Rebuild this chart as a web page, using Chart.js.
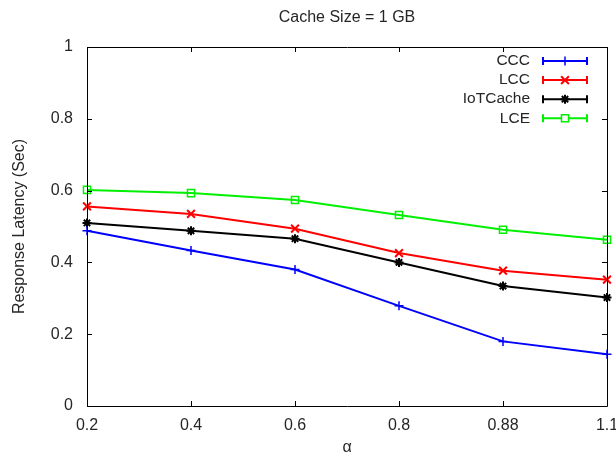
<!DOCTYPE html>
<html>
<head>
<meta charset="utf-8">
<script src="https://cdn.jsdelivr.net/npm/chart.js@4.4.1/dist/chart.umd.min.js"></script>
<style>
  html, body { margin: 0; padding: 0; background: #ffffff; }
  #wrap { width: 616px; height: 458px; }
</style>
</head>
<body>
<div id="wrap"><canvas id="c" width="616" height="458"></canvas></div>
<script>
const categories = ['0.2', '0.4', '0.6', '0.8', '0.88', '1.1'];
const seriesNames = ['CCC', 'LCC', 'IoTCache', 'LCE'];
const cccValues = [0.488, 0.433, 0.380, 0.279, 0.180, 0.144];
const lccValues = [0.556, 0.535, 0.494, 0.426, 0.377, 0.352];
const iotCacheValues = [0.510, 0.488, 0.466, 0.400, 0.334, 0.302];
const lceValues = [0.602, 0.593, 0.574, 0.532, 0.491, 0.463];
const yTicks = [0, 0.2, 0.4, 0.6, 0.8, 1];

const FONT = "'Liberation Sans', Arial, sans-serif";
const TEXT = '#262626';

const seriesStyles = [
  { color: '#0000ff', point: 'cross', radius: 4.5, pw: 1.5 },
  { color: '#ff0000', point: 'crossRot', radius: 5.5, pw: 2 },
  { color: '#000000', point: 'star', radius: 4.5, pw: 2 },
  { color: '#00f000', point: 'rect', radius: 5, pw: 1.5 }
];
const seriesValues = [cccValues, lccValues, iotCacheValues, lceValues];

const datasets = seriesNames.map((name, i) => ({
  label: name,
  data: seriesValues[i],
  borderColor: seriesStyles[i].color,
  backgroundColor: 'rgba(0,0,0,0)',
  borderWidth: 2,
  pointStyle: seriesStyles[i].point,
  pointRadius: seriesStyles[i].radius,
  pointBorderWidth: seriesStyles[i].pw,
  pointBorderColor: seriesStyles[i].color,
  pointBackgroundColor: 'rgba(0,0,0,0)',
  tension: 0,
  clip: false
}));

const frame = {
  id: 'frame',
  afterDatasetsDraw(chart) {
    const { ctx, chartArea: a, scales } = chart;
    ctx.save();
    ctx.strokeStyle = '#000';
    ctx.lineWidth = 1;
    ctx.beginPath();
    ctx.rect(Math.round(a.left) + 0.5, Math.round(a.top) + 0.5,
             Math.round(a.right - a.left), Math.round(a.bottom - a.top));
    ctx.stroke();
    const t = 5;
    ctx.beginPath();
    scales.x.ticks.forEach((tk, i) => {
      const x = Math.round(scales.x.getPixelForTick(i)) + 0.5;
      ctx.moveTo(x, a.bottom); ctx.lineTo(x, a.bottom - t);
      ctx.moveTo(x, a.top); ctx.lineTo(x, a.top + t);
    });
    scales.y.ticks.forEach((tk) => {
      const y = Math.round(scales.y.getPixelForValue(tk.value)) + 0.5;
      ctx.moveTo(a.left, y); ctx.lineTo(a.left + t, y);
      ctx.moveTo(a.right, y); ctx.lineTo(a.right - t, y);
    });
    ctx.stroke();
    ctx.restore();
  }
};

const keyLegend = {
  id: 'keyLegend',
  afterDraw(chart) {
    const { ctx } = chart;
    const textRight = 530, x0 = 543, x1 = 587, y0 = 61, dy = 19.1;
    ctx.save();
    ctx.font = '15.5px ' + FONT;
    ctx.textAlign = 'right';
    ctx.textBaseline = 'middle';
    chart.data.datasets.forEach((ds, i) => {
      const y = y0 + i * dy;
      ctx.fillStyle = TEXT;
      ctx.fillText(ds.label, textRight, y);
      ctx.strokeStyle = ds.borderColor;
      ctx.lineWidth = 2;
      ctx.beginPath();
      ctx.moveTo(x0, y); ctx.lineTo(x1, y);
      ctx.moveTo(x0, y - 4); ctx.lineTo(x0, y + 4);
      ctx.moveTo(x1, y - 4); ctx.lineTo(x1, y + 4);
      ctx.stroke();
      ctx.fillStyle = '#ffffff';
      ctx.lineWidth = ds.pointBorderWidth;
      ctx.strokeStyle = ds.borderColor;
      Chart.helpers.drawPoint(ctx, {
        pointStyle: ds.pointStyle,
        radius: ds.pointRadius,
        borderWidth: ds.pointBorderWidth
      }, (x0 + x1) / 2, y);
    });
    ctx.restore();
  }
};

new Chart(document.getElementById('c'), {
  type: 'line',
  data: { labels: categories, datasets },
  options: {
    responsive: false,
    animation: false,
    devicePixelRatio: 1,
    layout: { padding: { left: 0, right: 9, top: 0, bottom: 0 } },
    plugins: {
      legend: { display: false },
      tooltip: { enabled: false },
      title: {
        display: true,
        text: 'Cache Size = 1 GB',
        fullSize: false,
        color: TEXT,
        font: { family: FONT, size: 16, weight: 'normal' },
        padding: { top: 8.4, bottom: 19.4 }
      }
    },
    scales: {
      x: {
        type: 'category',
        offset: false,
        grid: { display: false, drawTicks: false },
        border: { display: false },
        ticks: { color: TEXT, font: { family: FONT, size: 16 }, padding: 10, maxRotation: 0, autoSkip: false },
        title: { display: true, text: 'α', color: TEXT, font: { family: FONT, size: 16 }, padding: { top: 2, bottom: 1 } },
        afterFit(s) { s.height = 52; s.paddingLeft = 0; s.paddingRight = 0; }
      },
      y: {
        min: 0, max: 1,
        afterBuildTicks(s) { s.ticks = yTicks.map(v => ({ value: v })); },
        grid: { display: false, drawTicks: false },
        border: { display: false },
        ticks: { color: TEXT, font: { family: FONT, size: 16 }, padding: 14, callback: v => String(v) },
        title: { display: true, text: 'Response Latency (Sec)', color: TEXT, font: { family: FONT, size: 16 }, padding: { top: 10, bottom: 0 } },
        afterFit(s) { s.width = 87; s.paddingTop = 0; s.paddingBottom = 0; }
      }
    }
  },
  plugins: [frame, keyLegend]
});
</script>
</body>
</html>
